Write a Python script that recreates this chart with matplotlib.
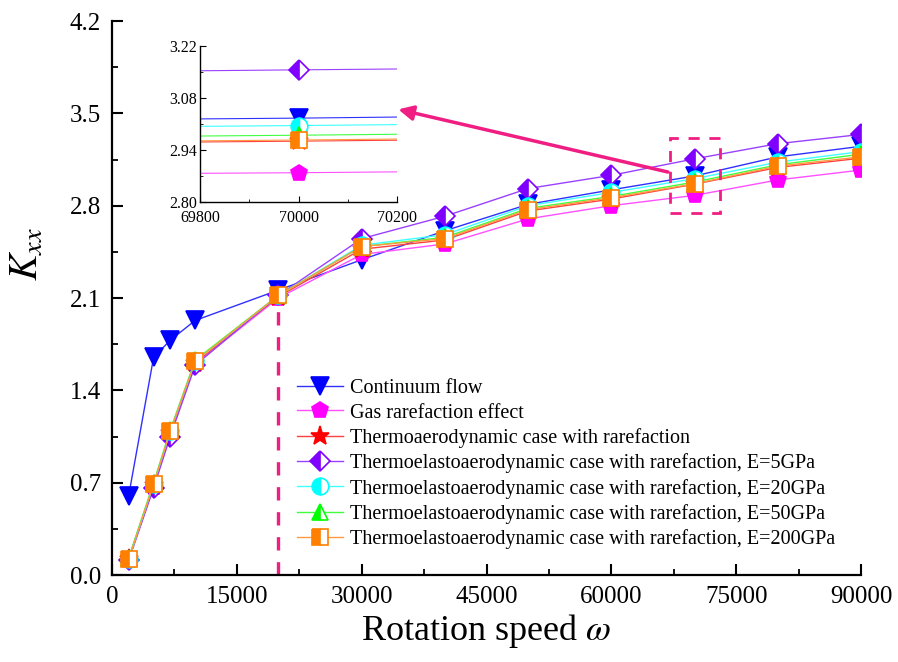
import matplotlib
matplotlib.use("Agg")
import matplotlib.pyplot as plt
from matplotlib.patches import Rectangle
from matplotlib.ticker import MultipleLocator, AutoMinorLocator

plt.rcParams['font.family'] = ['Liberation Serif', 'DejaVu Serif']
plt.rcParams['mathtext.fontset'] = 'stix'

# Rotation speeds
speed = [2000, 5000, 7000, 10000, 20000, 30000, 40000, 50000, 60000, 70000, 80000, 90000]

# Direct stiffness coefficient K_xx for each case
continuum = [0.60, 1.65, 1.78, 1.93, 2.16, 2.39, 2.61, 2.81, 2.92, 3.025, 3.17, 3.25]
rarefaction = [0.12, 0.67, 1.07, 1.60, 2.10, 2.43, 2.51, 2.70, 2.80, 2.878, 2.995, 3.07]
thermo = [0.12, 0.68, 1.08, 1.61, 2.11, 2.47, 2.54, 2.76, 2.85, 2.963, 3.09, 3.16]
e5 = [0.11, 0.66, 1.05, 1.59, 2.12, 2.55, 2.72, 2.93, 3.03, 3.155, 3.27, 3.34]
e20 = [0.12, 0.69, 1.09, 1.62, 2.12, 2.50, 2.58, 2.80, 2.90, 3.005, 3.13, 3.21]
e50 = [0.13, 0.70, 1.10, 1.63, 2.12, 2.49, 2.56, 2.78, 2.87, 2.979, 3.11, 3.19]
e200 = [0.12, 0.69, 1.09, 1.62, 2.12, 2.49, 2.55, 2.77, 2.86, 2.966, 3.10, 3.17]

labels = [
    "Continuum flow",
    "Gas rarefaction effect",
    "Thermoaerodynamic case with rarefaction",
    "Thermoelastoaerodynamic case with rarefaction, E=5GPa",
    "Thermoelastoaerodynamic case with rarefaction, E=20GPa",
    "Thermoelastoaerodynamic case with rarefaction, E=50GPa",
    "Thermoelastoaerodynamic case with rarefaction, E=200GPa",
]
series = [continuum, rarefaction, thermo, e5, e20, e50, e200]

styles = [
    dict(color='#0000FF', marker='v', ms=13, fillstyle='full'),
    dict(color='#FF00FF', marker='p', ms=12, fillstyle='full'),
    dict(color='#FF0000', marker='*', ms=14, fillstyle='full'),
    dict(color='#8000FF', marker='D', ms=10, fillstyle='left'),
    dict(color='#00FFFF', marker='o', ms=12, fillstyle='left'),
    dict(color='#00FF00', marker='^', ms=12, fillstyle='left'),
    dict(color='#FF8000', marker='s', ms=11, fillstyle='left'),
]
line_colors = ['#3030FF', '#FF50FF', '#FF4040', '#9A40FF', '#40FFFF', '#40FF40', '#FF9A40']

pink = '#F01E82'

fig = plt.figure(figsize=(8.98, 6.62), dpi=100)
ax = fig.add_axes([112 / 898, 1 - 575 / 662, 749 / 898, 554 / 662])


def draw(axis, lw):
    handles = []
    for y, lab, st, lc in zip(series, labels, styles, line_colors):
        h, = axis.plot(speed, y, color=lc, lw=lw, marker=st['marker'],
                       ms=st['ms'], markerfacecolor=st['color'],
                       markeredgecolor=st['color'], markerfacecoloralt='white',
                       fillstyle=st['fillstyle'], markeredgewidth=1.2, label=lab)
        handles.append(h)
    return handles


handles = draw(ax, 1.0)

ax.set_xlim(0, 90000)
ax.set_ylim(0, 4.2)
ax.xaxis.set_major_locator(MultipleLocator(15000))
ax.xaxis.set_minor_locator(MultipleLocator(7500))
ax.yaxis.set_major_locator(MultipleLocator(0.7))
ax.yaxis.set_minor_locator(MultipleLocator(0.35))
ax.yaxis.set_major_formatter(plt.FormatStrFormatter('%.1f'))
for s in ('top', 'right'):
    ax.spines[s].set_visible(False)
for s in ('left', 'bottom'):
    ax.spines[s].set_linewidth(1.6)
ax.tick_params(which='major', direction='in', length=8, width=1.5, labelsize=18, pad=8)
ax.tick_params(which='minor', direction='in', length=4, width=1.3)
ax.set_xlabel(r"Rotation speed $\omega$", fontsize=26, labelpad=3)
ax.set_ylabel(r"$K_{xx}$", fontsize=29)
ax.yaxis.set_label_coords(-0.087, 0.58)

# Reference line at 20000 rpm and highlight box around 70000 rpm
ax.plot([20000, 20000], [0, 2.08], color=pink, lw=2.4, ls=(0, (4, 3.5)), zorder=1)
ax.add_patch(Rectangle((67000, 2.745), 6000, 0.565, fill=False, edgecolor=pink,
                       lw=2.0, ls=(0, (4, 3.5)), zorder=5))
ax.annotate('', xy=(34400, 3.53), xytext=(66800, 3.055),
            arrowprops=dict(arrowstyle='-|>', color=pink, lw=2.5, mutation_scale=22,
                            shrinkA=0, shrinkB=0))

ax.legend(handles=handles, loc='upper left', bbox_to_anchor=(0.247, 0.354),
          frameon=False, fontsize=14.5, handlelength=2.3, handletextpad=0.35,
          labelspacing=0.27, borderpad=0, borderaxespad=0)

# Zoomed view around 70000 rpm
ins = fig.add_axes([200 / 898, 1 - 201.7 / 662, 197 / 898, 156 / 662])
draw(ins, 0.8)
ins.set_xlim(69800, 70200)
ins.set_ylim(2.80, 3.22)
ins.set_xticks([69800, 70000, 70200])
ins.set_yticks([2.80, 2.94, 3.08, 3.22])
ins.xaxis.set_minor_locator(AutoMinorLocator(2))
ins.yaxis.set_minor_locator(AutoMinorLocator(2))
ins.yaxis.set_major_formatter(plt.FormatStrFormatter('%.2f'))
for s in ('top', 'right'):
    ins.spines[s].set_visible(False)
for s in ('left', 'bottom'):
    ins.spines[s].set_linewidth(1.0)
ins.tick_params(which='major', direction='in', length=4, width=0.8, labelsize=11.5, pad=2)
ins.tick_params(axis='x', which='major', pad=6)
ins.tick_params(which='minor', direction='in', length=2, width=0.6)

fig.savefig("out.png", dpi=100)
